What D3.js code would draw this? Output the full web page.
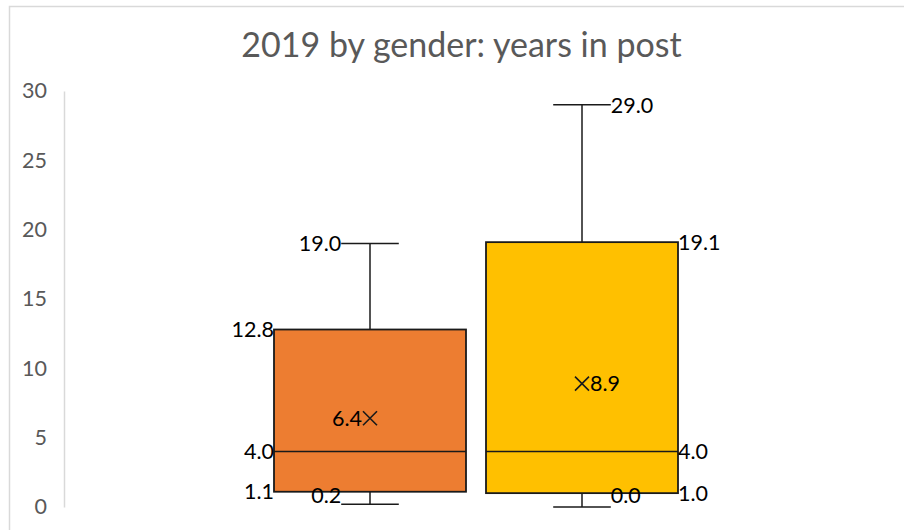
<!DOCTYPE html>
<html>
<head>
<meta charset="utf-8">
<script src="https://cdn.jsdelivr.net/npm/d3@7"></script>
<style>
  html, body { margin: 0; padding: 0; background: #fff; }
  svg { display: block; }
</style>
</head>
<body>
<svg id="chart" width="904" height="530"></svg>
<script>
// Years in post, 2019, one box per gender
const categories = ["Female", "Male"];
const minValues    = [0.2, 0.0];
const q1Values     = [1.1, 1.0];
const medianValues = [4.0, 4.0];
const q3Values     = [12.8, 19.1];
const maxValues    = [19.0, 29.0];
const meanValues   = [6.4, 8.9];
const boxColors    = ["#ED7D31", "#FFC000"];
const labelSides   = ["left", "right"];
const yTicks       = [0, 5, 10, 15, 20, 25, 30];
const titleText    = "2019 by gender: years in post";

const svg = d3.select("#chart");
const fontFamily = "Lato, 'Open Sans', sans-serif";

// chart frame (extends past the right and bottom edges)
svg.append("rect")
  .attr("x", 9.5).attr("y", 6.5)
  .attr("width", 920).attr("height", 560)
  .attr("fill", "#fff")
  .attr("stroke", "#d9d9d9").attr("stroke-width", 1.5);

// title
svg.append("text")
  .attr("x", 461.5).attr("y", 56.5)
  .attr("text-anchor", "middle")
  .attr("font-family", fontFamily)
  .attr("font-size", 34)
  .attr("fill", "#595959")
  .text(titleText);

const y = d3.scaleLinear().domain([0, 30]).range([507, 91]);
const x = d3.scaleBand().domain(categories)
  .range([264, 688]).paddingInner(20 / 212).paddingOuter(10 / 212);

// value axis: light line, no ticks
const axis = svg.append("g")
  .attr("transform", "translate(64,0)")
  .call(d3.axisLeft(y).tickValues(yTicks).tickSize(0).tickPadding(17).tickFormat(d3.format("d")));
axis.select(".domain").attr("stroke", "#d9d9d9").attr("stroke-width", 1.5);
axis.selectAll("text")
  .attr("font-family", fontFamily)
  .attr("font-size", 21.5)
  .attr("fill", "#595959");

const bw = x.bandwidth();
const capHalf = bw * 0.15;
const labelY = v => Math.min(y(v), y(0) - 12);

categories.forEach((c, i) => {
  const x0 = x(c), cx = x0 + bw / 2;
  const g = svg.append("g");
  const stroke = "#1a1a1a";

  // whiskers and caps
  g.append("line").attr("x1", cx).attr("x2", cx)
    .attr("y1", y(maxValues[i])).attr("y2", y(q3Values[i]))
    .attr("stroke", stroke).attr("stroke-width", 1.5);
  g.append("line").attr("x1", cx).attr("x2", cx)
    .attr("y1", y(q1Values[i])).attr("y2", y(minValues[i]))
    .attr("stroke", stroke).attr("stroke-width", 1.5);
  [maxValues[i], minValues[i]].forEach(v => {
    g.append("line").attr("x1", cx - capHalf).attr("x2", cx + capHalf)
      .attr("y1", y(v)).attr("y2", y(v))
      .attr("stroke", stroke).attr("stroke-width", 1.5);
  });

  // box
  g.append("rect")
    .attr("x", x0).attr("y", y(q3Values[i]))
    .attr("width", bw).attr("height", y(q1Values[i]) - y(q3Values[i]))
    .attr("fill", boxColors[i])
    .attr("stroke", stroke).attr("stroke-width", 1.8);

  // median
  g.append("line").attr("x1", x0).attr("x2", x0 + bw)
    .attr("y1", y(medianValues[i])).attr("y2", y(medianValues[i]))
    .attr("stroke", stroke).attr("stroke-width", 1.5);

  // mean marker
  const my = y(meanValues[i]), s = 7;
  g.append("path")
    .attr("d", `M${cx - s},${my - s}L${cx + s},${my + s}M${cx - s},${my + s}L${cx + s},${my - s}`)
    .attr("stroke", stroke).attr("stroke-width", 1.6).attr("fill", "none");

  // value labels
  const left = labelSides[i] === "left";
  const anchor = left ? "end" : "start";
  const boxEdge = left ? x0 : x0 + bw;
  const capEdge = left ? cx - capHalf : cx + capHalf;
  const markEdge = left ? cx - 8 : cx + 8;
  const labels = [
    { v: maxValues[i], x: capEdge },
    { v: q3Values[i], x: boxEdge },
    { v: meanValues[i], x: markEdge },
    { v: medianValues[i], x: boxEdge },
    { v: q1Values[i], x: boxEdge },
    { v: minValues[i], x: capEdge }
  ];
  labels.forEach(l => {
    g.append("text")
      .attr("x", l.x).attr("y", labelY(l.v)).attr("dy", "0.36em")
      .attr("text-anchor", anchor)
      .attr("font-family", fontFamily)
      .attr("font-size", 21.5)
      .attr("fill", "#000")
      .text(d3.format(".1f")(l.v));
  });
});
</script>
</body>
</html>
